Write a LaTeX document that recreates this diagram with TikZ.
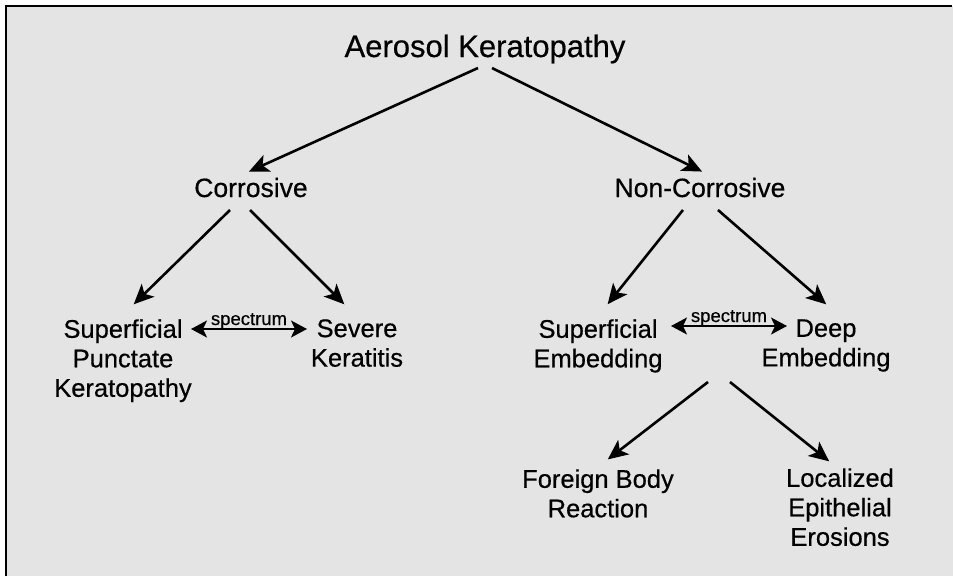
\documentclass[tikz,border=0pt]{standalone}
\usepackage{fontspec}
\setmainfont{Liberation Sans}[FakeBold=0.5]
\usepackage{xcolor}
\usepackage{tikz}
\usetikzlibrary{arrows.meta}
\definecolor{myGray}{rgb}{0.894,0.894,0.894}

\begin{document}
\begin{tikzpicture}[x=1pt,y=-1pt,>={Stealth[length=20pt,width=18pt,inset=5pt]},shorten >=1pt,line width=2.6pt]
  \tikzstyle{title}=[font=\fontsize{31}{36}\selectfont,inner sep=0,anchor=base]
  \tikzstyle{branch}=[font=\fontsize{26.5}{30}\selectfont,inner sep=0,anchor=base]
  \tikzstyle{leaf}=[font=\fontsize{25.5}{29.5}\selectfont,align=center,inner sep=0,anchor=north]
  \tikzstyle{spec}=[font=\fontsize{18.5}{21}\selectfont,inner sep=0,anchor=base,yshift=4pt]

  \useasboundingbox (0,0) rectangle (953,576);
  \fill[myGray] (6,6) rectangle (953,576);
  \draw[line width=2pt] (6,576) -- (6,6) -- (953,6);

  \node[title]  (aer)   at (485,57)  {Aerosol Keratopathy};
  \node[branch] (corr)  at (251,197) {Corrosive};
  \node[branch] (ncorr) at (700,197) {Non-Corrosive};
  \node[leaf]   (spk)   at (123,318) {Superficial\\Punctate\\Keratopathy};
  \node[leaf]   (sev)   at (357,318) {Severe\\Keratitis};
  \node[leaf]   (semb)  at (598,318) {Superficial\\Embedding};
  \node[leaf]   (deep)  at (826,318) {Deep\\Embedding};
  \node[leaf]   (fbr)   at (598,468) {Foreign Body\\Reaction};
  \node[leaf]   (loc)   at (840,467) {Localized\\Epithelial\\Erosions};

  \draw[->] ([shift={(-7,11)}]aer.base) -- ([shift={(-3,-25)}]corr.base);
  \draw[->] ([shift={(7,11)}]aer.base) -- ([shift={(3,-25)}]ncorr.base);
  \draw[->] ([shift={(-21,13)}]corr.base) -- ([shift={(10,-13)}]spk.north);
  \draw[->] ([shift={(-1,13)}]corr.base) -- ([shift={(-12,-13)}]sev.north);
  \draw[->] ([shift={(-17,13)}]ncorr.base) -- ([shift={(9,-13)}]semb.north);
  \draw[->] ([shift={(18,13)}]ncorr.base) -- ([shift={(1,-13)}]deep.north);
  \draw[->] ([shift={(110,64)}]semb.north) -- ([shift={(9,-8)}]fbr.north);
  \draw[->] ([shift={(132,64)}]semb.north) -- ([shift={(-10,-5)}]loc.north);

  % spectrum arrows
  \draw[<->,line width=2pt,>={Stealth[length=16pt,width=17pt,inset=4pt]},shorten <=1pt]
    ([shift={(67,11)}]spk.north) -- ([shift={(-49,11)}]sev.north)
    node[spec,midway] (spec1) {spectrum};
  \draw[<->,line width=2pt,>={Stealth[length=16pt,width=17pt,inset=4pt]},shorten <=1pt]
    ([shift={(72,8)}]semb.north) -- ([shift={(-38,8)}]deep.north)
    node[spec,midway] (spec2) {spectrum};
\end{tikzpicture}
\end{document}
